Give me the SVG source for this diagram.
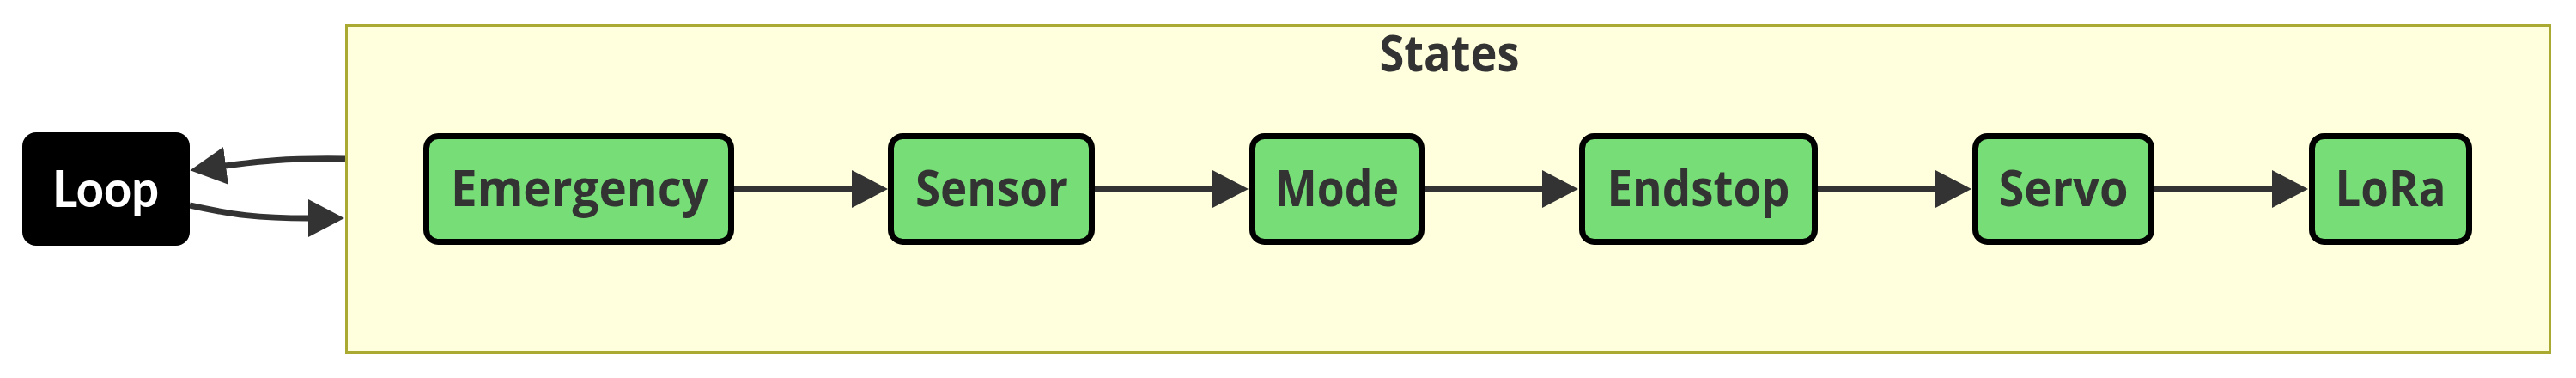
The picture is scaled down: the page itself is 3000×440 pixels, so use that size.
<svg xmlns="http://www.w3.org/2000/svg" width="3000" height="440" viewBox="0 0 3000 440">
<defs>
<style>
.node rect{fill:#77dd77;stroke:#000;stroke-width:7}
.lbl{font-family:"Open Sans","Noto Sans",sans-serif;font-weight:700;font-size:59px;fill:#333;text-anchor:middle}
.edge{fill:none;stroke:#333;stroke-width:7}
</style>
<marker id="arr" markerUnits="userSpaceOnUse" viewBox="0 0 42 44" refX="1" refY="22" markerWidth="42" markerHeight="44" orient="auto">
<path d="M0,0 L42,22 L0,44 Z" fill="#333"/>
</marker>
</defs>
<g id="cluster-States">
<rect x="403.5" y="29.5" width="2566" height="381" fill="#ffffde" stroke="#aaaa33" stroke-width="3"/>
<text class="lbl" x="1688" y="83" textLength="163" lengthAdjust="spacingAndGlyphs">States</text>
</g>
<g id="edges">
<path class="edge" d="M402,185 C330,184 300,188 262,193" marker-end="url(#arr)"/>
<path class="edge" d="M221,239 C270,250 300,254 360,254" marker-end="url(#arr)"/>
<path class="edge" d="M855,220 L993,220" marker-end="url(#arr)"/>
<path class="edge" d="M1275,220 L1413,220" marker-end="url(#arr)"/>
<path class="edge" d="M1659,220 L1797,220" marker-end="url(#arr)"/>
<path class="edge" d="M2117,220 L2255,220" marker-end="url(#arr)"/>
<path class="edge" d="M2509,220 L2647,220" marker-end="url(#arr)"/>
</g>
<g id="Loop">
<rect x="26" y="154" width="195" height="132" rx="16" ry="16" fill="#000"/>
<text class="lbl" x="123" y="241" style="fill:#fff;font-size:60px;font-family:Lato,'Open Sans',sans-serif" textLength="124" lengthAdjust="spacingAndGlyphs">Loop</text>
</g>
<g id="Emergency" class="node">
<rect x="496.5" y="158.5" width="355" height="123" rx="14" ry="14"/>
<text class="lbl" x="675" y="240" textLength="300" lengthAdjust="spacingAndGlyphs">Emergency</text>
</g>
<g id="Sensor" class="node">
<rect x="1037.5" y="158.5" width="234" height="123" rx="14" ry="14"/>
<text class="lbl" x="1155" y="240" textLength="178" lengthAdjust="spacingAndGlyphs">Sensor</text>
</g>
<g id="Mode" class="node">
<rect x="1458.5" y="158.5" width="197" height="123" rx="14" ry="14"/>
<text class="lbl" x="1557" y="240" textLength="144" lengthAdjust="spacingAndGlyphs">Mode</text>
</g>
<g id="Endstop" class="node">
<rect x="1842.5" y="158.5" width="271" height="123" rx="14" ry="14"/>
<text class="lbl" x="1978" y="240" textLength="213" lengthAdjust="spacingAndGlyphs">Endstop</text>
</g>
<g id="Servo" class="node">
<rect x="2300.5" y="158.5" width="205" height="123" rx="14" ry="14"/>
<text class="lbl" x="2403" y="240" textLength="151" lengthAdjust="spacingAndGlyphs">Servo</text>
</g>
<g id="LoRa" class="node">
<rect x="2692.5" y="158.5" width="183" height="123" rx="14" ry="14"/>
<text class="lbl" x="2784" y="240" textLength="129" lengthAdjust="spacingAndGlyphs">LoRa</text>
</g>
</svg>
